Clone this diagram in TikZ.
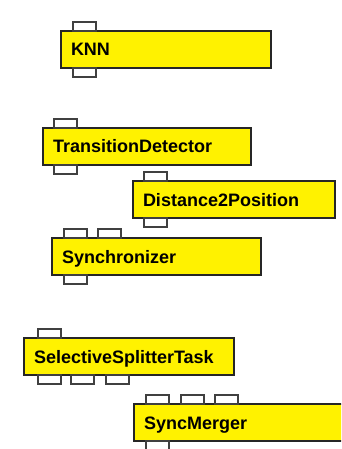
\documentclass[tikz,border=0pt]{standalone}
\usepackage{fontspec}
\setmainfont{Liberation Sans}
\tikzset{
  comp/.style={draw=black!85, line width=1.3pt, fill=yellow, anchor=north west,
    minimum height=37pt, minimum width=#1, text width=#1-20pt, inner xsep=10pt, inner ysep=0pt,
    outer sep=0pt, align=left, text height=13pt, text depth=0pt,
    font=\bfseries\fontsize{18}{18}\selectfont},
  port/.style={draw=black!75, line width=1.1pt, fill=white, minimum width=23pt,
    minimum height=9pt, inner sep=0pt, outer sep=0pt},
  tport/.style={port, anchor=south west},
  bport/.style={port, anchor=north west},
}
\begin{document}
\begin{tikzpicture}[x=1pt,y=-1pt]
\clip (0,0) rectangle (341,449);
\fill[white] (0,0) rectangle (341,449);

\node[comp=210pt] (knn) at (61,31) {KNN};
\node[tport] (knnt) at ([xshift=12pt]knn.north west) {};
\node[bport] (knnb) at ([xshift=12pt]knn.south west) {};

\node[comp=208pt] (td) at (43,128) {TransitionDetector};
\node[tport] (tdt) at ([xshift=11pt]td.north west) {};
\node[bport] (tdb) at ([xshift=11pt]td.south west) {};

\node[comp=202pt] (dp) at (133,181) {Distance2Position};
\node[tport] (dpt) at ([xshift=11pt]dp.north west) {};
\node[bport] (dpb) at ([xshift=11pt]dp.south west) {};

\node[comp=209pt] (sy) at (52,238) {Synchronizer};
\node[tport] (syt1) at ([xshift=12pt]sy.north west) {};
\node[tport] (syt2) at ([xshift=46pt]sy.north west) {};
\node[bport] (syb) at ([xshift=12pt]sy.south west) {};

\node[comp=210pt] (ss) at (24,338) {SelectiveSplitterTask};
\node[tport] (sst) at ([xshift=14pt]ss.north west) {};
\node[bport] (ssb1) at ([xshift=14pt]ss.south west) {};
\node[bport] (ssb2) at ([xshift=47pt]ss.south west) {};
\node[bport] (ssb3) at ([xshift=82pt]ss.south west) {};

\node[comp=220pt] (sm) at (134,404) {SyncMerger};
\node[tport] (smt1) at ([xshift=12pt]sm.north west) {};
\node[tport] (smt2) at ([xshift=47pt]sm.north west) {};
\node[tport] (smt3) at ([xshift=81pt]sm.north west) {};
\node[bport] (smb) at ([xshift=12pt]sm.south west) {};
\end{tikzpicture}
\end{document}
